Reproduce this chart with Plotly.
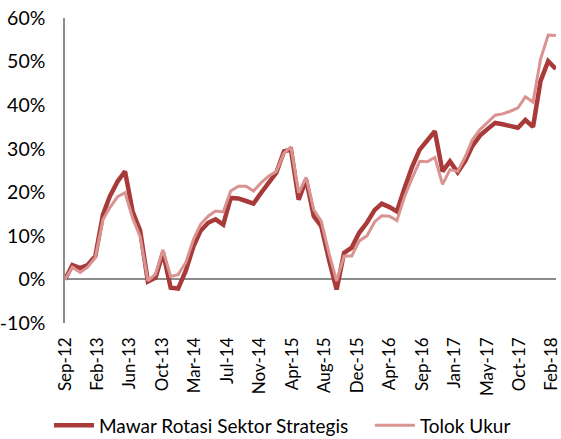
import pandas as pd
import plotly.graph_objects as go

months = pd.date_range("2012-09-01", periods=66, freq="MS")

mawar = [0.0, 3.3, 2.6, 3.3, 5.3, 14.9, 19.1, 22.5, 24.8, 15.5,
         11.2, -0.5, 0.4, 6.2, -1.9, -2.1, 2.0, 7.6, 11.1, 13.0,
         13.8, 12.6, 18.7, 18.6, 18.0, 17.4, 19.9, 22.2, 24.5, 29.4,
         29.8, 18.3, 22.9, 14.5, 12.2, 4.6, -2.3, 6.1, 7.3, 10.7,
         13.0, 15.9, 17.4, 16.6, 15.6, 21.0, 25.8, 29.8, 32.1, 34.0,
         24.8, 27.1, 24.6, 27.2, 30.6, 33.0, 34.5, 35.9, 35.6, 35.2,
         34.8, 36.6, 35.0, 45.5, 50.1, 48.3]

tolok = [0.0, 2.8, 1.6, 2.8, 5.0, 13.7, 16.5, 19.0, 19.9, 14.0,
         9.8, -0.3, 1.2, 6.8, 0.7, 1.1, 3.9, 9.2, 12.6, 14.5,
         15.7, 15.5, 20.3, 21.4, 21.4, 20.3, 22.2, 23.7, 24.8, 29.0,
         30.4, 19.9, 23.4, 16.0, 13.4, 6.1, -0.4, 5.4, 5.4, 8.8,
         10.0, 13.2, 14.6, 14.5, 13.5, 19.0, 23.2, 27.1, 27.0, 28.0,
         21.8, 25.2, 24.8, 28.2, 32.0, 34.4, 36.0, 37.7, 38.0, 38.6,
         39.4, 41.9, 40.7, 50.5, 56.1, 56.0]

tick_labels = ["Sep-12", "Feb-13", "Jun-13", "Oct-13", "Mar-14", "Jul-14",
               "Nov-14", "Apr-15", "Aug-15", "Dec-15", "Apr-16", "Sep-16",
               "Jan-17", "May-17", "Oct-17", "Feb-18"]

y_ticks = [-10, 0, 10, 20, 30, 40, 50, 60]

# label slots are evenly spread, last one sitting just inside the final month
span = (months[-1] - months[0]) * 0.992
tickvals = [months[0] + span * k / (len(tick_labels) - 1) for k in range(len(tick_labels))]
x_end = months[-1] + pd.Timedelta(hours=12)

FONT = "Lato, 'Open Sans', sans-serif"

fig = go.Figure()
fig.add_trace(go.Scatter(x=months, y=mawar, mode="lines",
                         name="Mawar Rotasi Sektor Strategis", legend="legend",
                         line=dict(color="#A83B39", width=4.5)))
fig.add_trace(go.Scatter(x=months, y=tolok, mode="lines",
                         name="Tolok Ukur", legend="legend2",
                         line=dict(color="#D99492", width=3)))

leg_common = dict(orientation="h", yref="container", y=0.031, yanchor="middle",
                  font=dict(size=19), itemwidth=40, bgcolor="rgba(0,0,0,0)")

fig.update_layout(
    width=561, height=439,
    margin=dict(l=65, r=5, t=18, b=116),
    paper_bgcolor="white", plot_bgcolor="white",
    font=dict(family=FONT, size=18, color="#000000"),
    showlegend=True,
    legend=dict(x=-0.0326, xanchor="left", **leg_common),
    legend2=dict(x=0.621, xanchor="left", **leg_common),
    xaxis=dict(
        type="date", automargin=False,
        range=[months[0], x_end],
        tickmode="array", tickvals=tickvals, ticktext=tick_labels,
        tickangle=-90, showgrid=False, showline=False, zeroline=False,
        ticks="", tickfont=dict(size=17), ticklabelstandoff=10,
        ticklabeloverflow="allow",
    ),
    yaxis=dict(
        automargin=False,
        range=[-10, 60], tickmode="array", tickvals=y_ticks,
        ticktext=[f"{v}%" for v in y_ticks],
        showgrid=False, showline=True, linecolor="#8C8C8C", linewidth=1.5,
        zeroline=True, zerolinecolor="#8C8C8C", zerolinewidth=1.5,
        ticks="", tickfont=dict(size=19.5), ticklabelstandoff=14,
    ),
)

fig.write_html("out.html", config={"displayModeBar": False},
               post_script="document.body.style.margin='0';")
